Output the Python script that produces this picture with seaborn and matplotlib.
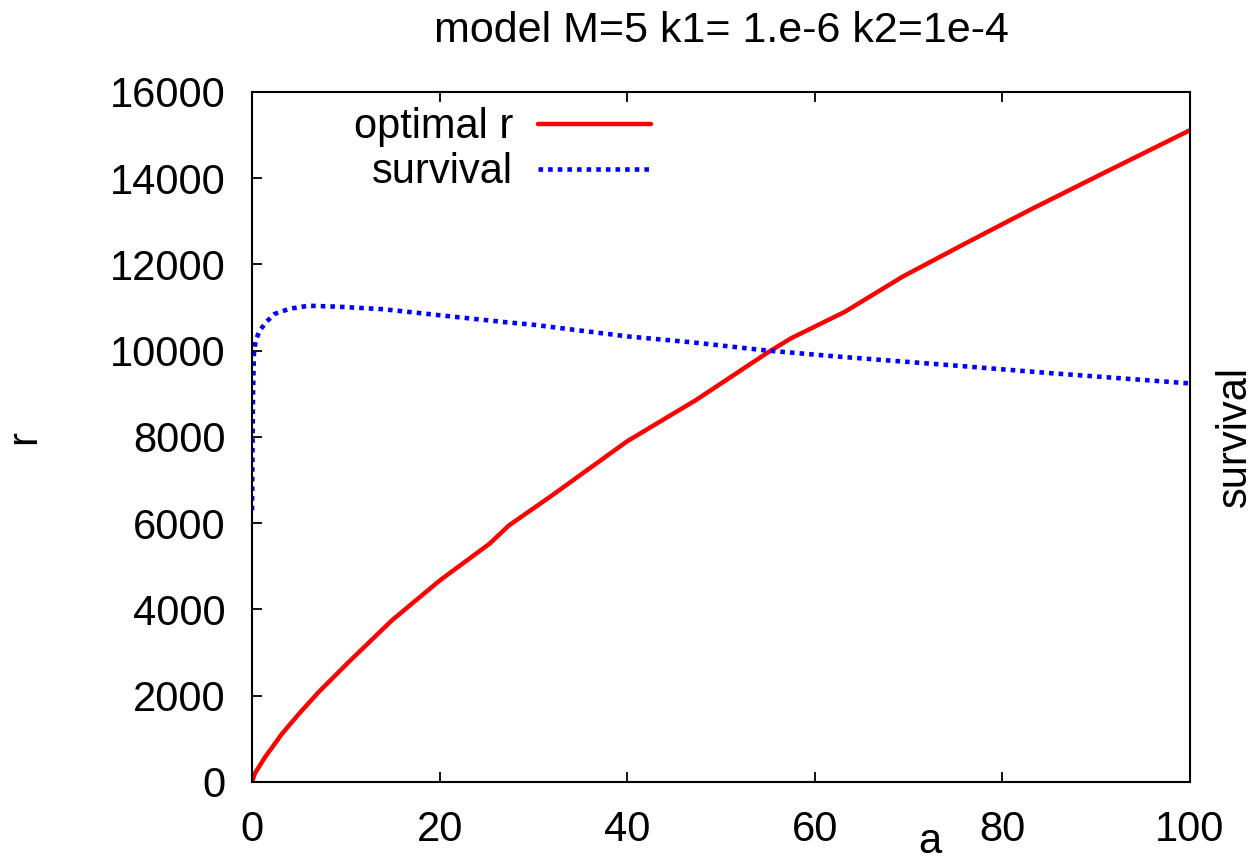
import matplotlib
matplotlib.use("Agg")
import matplotlib.pyplot as plt
import numpy as np
import pandas as pd
import seaborn as sns

# optimal r vs a
a_opt = [0, 0.3, 1.4, 3.2, 5, 7.1, 10.3, 14.9, 20, 25.3, 27.4, 31.7, 40, 47.3,
         55, 57.5, 63.2, 69.4, 76, 83, 91, 100]
r_opt = [0, 200, 580, 1120, 1580, 2085, 2780, 3745, 4670, 5520, 5950, 6600, 7900, 8850,
         9960, 10290, 10900, 11720, 12480, 13270, 14140, 15110]

# survival vs a
a_surv = [0, 0.05, 0.1, 0.2, 0.4, 0.6, 0.8, 1.5, 2.4, 4, 6, 9, 14, 20, 27, 30,
          40, 47, 55, 62, 74, 85, 100]
s_surv = [6300, 7800, 9000, 9950, 10250, 10350, 10460, 10660, 10850, 10970, 11040, 11020,
          10960, 10820, 10660, 10600, 10330, 10190, 10000, 9870, 9670, 9480, 9240]

x_ticks = [0, 20, 40, 60, 80, 100]
y_ticks = [0, 2000, 4000, 6000, 8000, 10000, 12000, 14000, 16000]

sns.set_style("ticks")
plt.rcParams['font.family'] = ['Liberation Sans', 'DejaVu Sans']
plt.rcParams['text.color'] = 'black'
plt.rcParams['axes.labelcolor'] = 'black'
FS = 30

df_opt = pd.DataFrame({'a': a_opt, 'r': r_opt})
df_surv = pd.DataFrame({'a': a_surv, 'r': s_surv})

fig = plt.figure(figsize=(12.54, 8.66), dpi=100)
ax = fig.add_axes([0.201, 0.097, 0.748, 0.797])

sns.lineplot(x='a', y='r', data=df_opt, ax=ax, color='#ff0000', linewidth=3.2,
             label='optimal r', sort=False)
sns.lineplot(x='a', y='r', data=df_surv, ax=ax, color='#0000ff', linewidth=3.3,
             linestyle=(0, (1, 1.1)), label='survival', sort=False)

ax.set_xlim(0, 100)
ax.set_ylim(0, 16000)
ax.set_xticks(x_ticks)
ax.set_yticks(y_ticks)
ax.tick_params(direction='in', top=True, right=True, length=7, width=1.3,
               labelsize=FS, colors='black')
ax.tick_params(axis='x', pad=20)
ax.tick_params(axis='y', pad=19)
for sp in ax.spines.values():
    sp.set_visible(True)
    sp.set_linewidth(1.5)
    sp.set_color('black')

ax.set_title('model M=5 k1= 1.e-6 k2=1e-4', fontsize=31, pad=36, color='black')
ax.set_xlabel('a', fontsize=FS)
ax.xaxis.set_label_coords(0.723, -0.058)
ax.set_ylabel('r', fontsize=FS)
ax.yaxis.set_label_coords(-0.222, 0.5)

ax2 = ax.twinx()
ax2.set_ylim(0, 16000)
ax2.set_yticks([])
ax2.set_ylabel('survival', fontsize=FS)
ax2.yaxis.set_label_coords(1.026, 0.5)
for sp in ax2.spines.values():
    sp.set_visible(False)

leg = ax.legend(loc='upper right', bbox_to_anchor=(0.456, 1.02), frameon=False,
                markerfirst=False, fontsize=FS, handlelength=2.7,
                handletextpad=0.6, labelspacing=0.12, borderpad=0.2)

fig.savefig('out.png', dpi=100)
